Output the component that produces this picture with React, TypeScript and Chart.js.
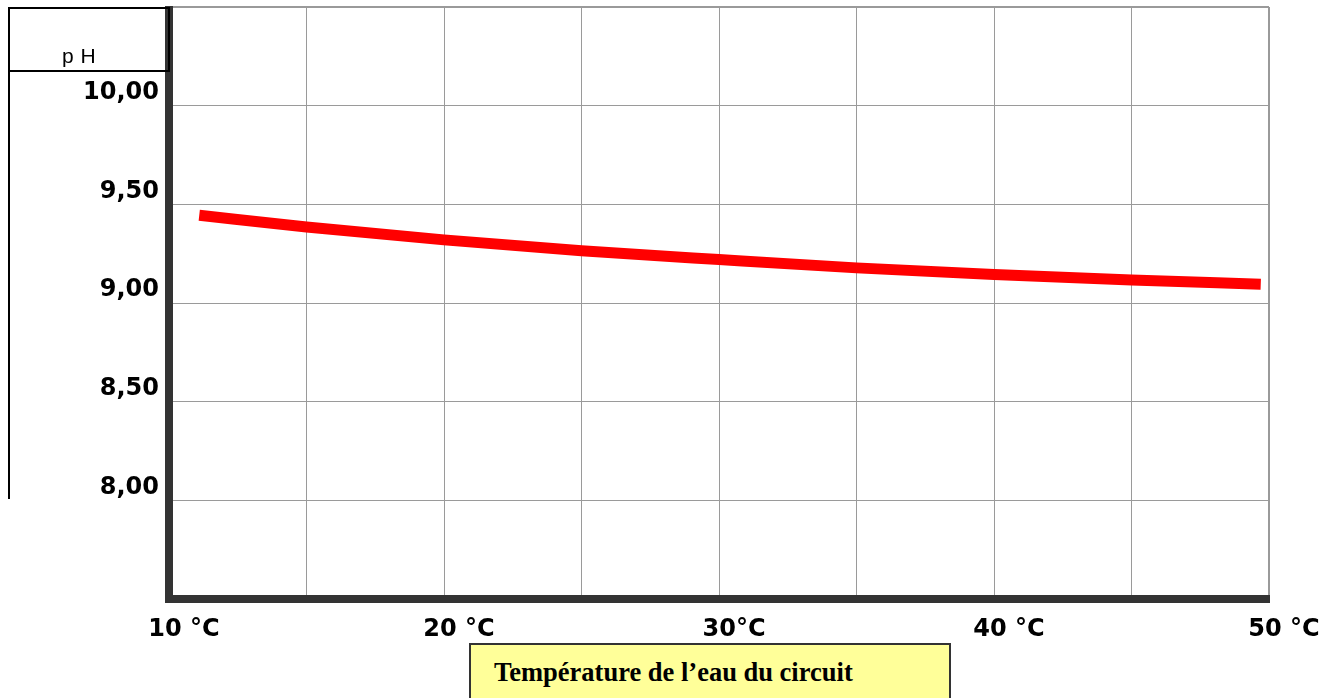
import React, { useEffect, useRef } from "react";
import { Chart, registerables } from "chart.js";

Chart.register(...registerables);

// Data
const temperatures = [11.1, 15, 20, 25, 30, 35, 40, 45, 49.7];
const phValues = [9.445, 9.385, 9.32, 9.265, 9.22, 9.178, 9.145, 9.117, 9.095];

const xTickValues = [10, 20, 30, 40, 50];
const xTickLabels = ["10 °C", "20 °C", "30°C", "40 °C", "50 °C"];
const yTickValues = [8, 8.5, 9, 9.5, 10];
const yAxisTitle = "p H";
const xAxisTitle = "Température de l’eau du circuit";

export default function App() {
  const canvasRef = useRef<HTMLCanvasElement | null>(null);

  useEffect(() => {
    document.body.style.margin = "0";
    const canvas = canvasRef.current;
    if (!canvas) return;
    const chart = new Chart(canvas, {
      type: "line",
      data: {
        datasets: [
          {
            data: temperatures.map((t, i) => ({ x: t, y: phValues[i] })),
            borderColor: "#ff0000",
            borderWidth: 11,
            borderCapStyle: "butt",
            cubicInterpolationMode: "monotone",
            pointRadius: 0,
            fill: false,
          },
        ],
      },
      options: {
        responsive: false,
        animation: false,
        layout: { padding: { top: 7, right: 65, left: 0, bottom: 0 } },
        plugins: { legend: { display: false }, tooltip: { enabled: false } },
        scales: {
          x: {
            type: "linear",
            min: 10,
            max: 50,
            afterFit: (s: any) => {
              s.height = 99;
              s.paddingLeft = 0;
              s.paddingRight = 0;
            },
            ticks: {
              stepSize: 5,
              autoSkip: false,
              maxRotation: 0,
              padding: 16,
              labelOffset: 15,
              color: "#000",
              font: { family: "'DejaVu Sans', sans-serif", weight: "bold", size: 24 },
              callback: (v: any) => {
                const i = xTickValues.indexOf(Number(v));
                return i >= 0 ? xTickLabels[i] : "";
              },
            },
            grid: {
              drawTicks: false,
              color: "#9a9a9a",
              lineWidth: (ctx: any) => (ctx.tick && ctx.tick.value === 50 ? 2 : 1),
            },
            border: { display: true, color: "#333333", width: 8 },
          },
          y: {
            type: "linear",
            min: 7.5,
            max: 10.5,
            afterFit: (s: any) => {
              s.width = 169;
              s.paddingTop = 0;
              s.paddingBottom = 0;
            },
            ticks: {
              stepSize: 0.5,
              autoSkip: false,
              padding: 10,
              labelOffset: -13,
              color: "#000",
              font: { family: "'DejaVu Sans', sans-serif", weight: "bold", size: 24 },
              callback: (v: any) => {
                const n = Number(v);
                return yTickValues.some((t) => Math.abs(t - n) < 1e-6)
                  ? n.toFixed(2).replace(".", ",")
                  : "";
              },
            },
            grid: {
              drawTicks: false,
              color: "#9a9a9a",
              lineWidth: (ctx: any) => (ctx.tick && ctx.tick.value === 10.5 ? 2 : 1),
            },
            border: { display: true, color: "#333333", width: 8 },
          },
        },
      },
    });
    return () => chart.destroy();
  }, []);

  return (
    <div style={{ position: "absolute", left: 0, top: 0, width: 1334, height: 698, overflow: "hidden", background: "#fff" }}>
      <canvas ref={canvasRef} width={1334} height={698} style={{ position: "absolute", left: 0, top: 0 }} />
      <div style={{ position: "absolute", left: 163, top: 0, width: 12, height: 6, background: "#fff" }} />
      <div
        style={{
          position: "absolute",
          left: 8,
          top: 7,
          width: 162,
          height: 65,
          boxSizing: "border-box",
          border: "2px solid #000",
          fontFamily: "'Liberation Sans', Arial, sans-serif",
          fontSize: 21,
          color: "#000",
        }}
      >
        <div style={{ position: "absolute", left: 52, top: 36, lineHeight: "21px", letterSpacing: 0.5, whiteSpace: "nowrap" }}>
          {yAxisTitle}
        </div>
      </div>
      <div style={{ position: "absolute", left: 8, top: 71, width: 2, height: 428, background: "#000" }} />
      <div
        style={{
          position: "absolute",
          left: 469,
          top: 643,
          width: 482,
          height: 70,
          boxSizing: "border-box",
          border: "2px solid #333",
          background: "#ffff99",
        }}
      >
        <div
          style={{
            position: "absolute",
            left: 23,
            top: 12,
            fontFamily: "'Liberation Serif', 'Times New Roman', serif",
            fontWeight: "bold",
            fontSize: 26.5,
            lineHeight: "30px",
            color: "#000",
            whiteSpace: "nowrap",
          }}
        >
          {xAxisTitle}
        </div>
      </div>
    </div>
  );
}
